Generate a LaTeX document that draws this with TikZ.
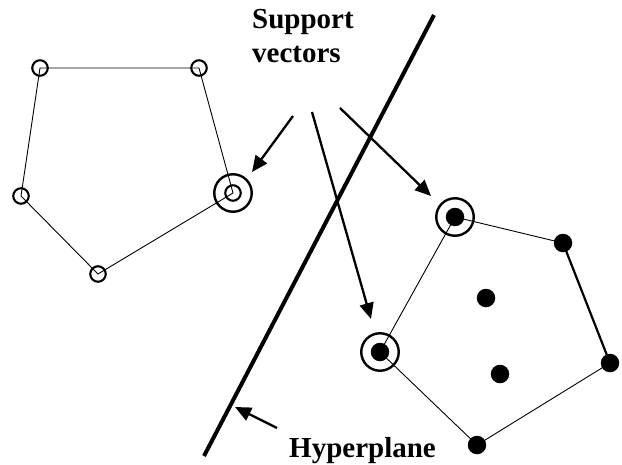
\documentclass[tikz,border=0pt]{standalone}
\usepackage{fontspec}
\setmainfont{Liberation Serif}
\usetikzlibrary{arrows.meta}
\begin{document}
\begin{tikzpicture}[x=1pt,y=-1pt,
  edge/.style={line width=0.9pt},
  heavyedge/.style={line width=2.2pt},
  hollow/.style={circle,draw,line width=2.1pt,minimum size=15.5pt,inner sep=0pt},
  filleddot/.style={circle,fill,minimum size=18.5pt,inner sep=0pt},
  ring/.style={circle,draw,line width=2.4pt,minimum size=37.5pt,inner sep=0pt},
  pointer/.style={line width=2.3pt,-{Triangle[length=16pt,width=14pt]}},
  caption/.style={inner sep=0pt,font=\fontsize{29}{34}\selectfont\bfseries}
]
\useasboundingbox (0,0) rectangle (622,464);

% hollow class (left pentagon)
\coordinate (A) at (40,68);
\coordinate (B) at (199,68);
\coordinate (E) at (233,193);
\coordinate (D) at (98,274);
\coordinate (C) at (21,196);
\draw[edge] (A) -- (B) -- (E) -- (D) -- (C) -- cycle;
\foreach \p in {A,B,C,D,E} \node[hollow] (h\p) at (\p) {};
\node[ring] (rE) at (E) {};

% filled class (right pentagon)
\coordinate (P1) at (455,217);
\coordinate (P2) at (563,243);
\coordinate (P3) at (610,363);
\coordinate (P4) at (477,445);
\coordinate (P5) at (380,352);
\draw[edge] (P3) -- (P4) -- (P5) -- (P1) -- (P2);
\draw[heavyedge] (P2) -- (P3);
\foreach \p in {P1,P2,P3,P4,P5} \node[filleddot] (d\p) at (\p) {};
\node[filleddot] (dQ1) at (486,298) {};
\node[filleddot] (dQ2) at (500,374) {};
\node[ring] (rP1) at (P1) {};
\node[ring] (rP5) at (P5) {};

% separating hyperplane
\coordinate (H0) at (204,456);
\coordinate (H1) at (434,15);
\draw[line width=4pt] (H0) -- (H1);

% labels
\node[caption,anchor=base west] (sup) at (252,28) {Support};
\node[caption,anchor=base west] (vec) at (252,62) {vectors};
\node[caption,anchor=base west] (hyp) at (289,457) {Hyperplane};

% pointers
\coordinate (s1) at (293,116);
\coordinate (t1) at (252,172);
\coordinate (s2) at (312,112);
\coordinate (t2) at (371,319);
\coordinate (s3) at (340,108);
\coordinate (t3) at (431,196);
\coordinate (s4) at (277,428);
\coordinate (t4) at (235,407);
\draw[pointer] (s1) -- (t1);
\draw[pointer] (s2) -- (t2);
\draw[pointer] (s3) -- (t3);
\draw[pointer] (s4) -- (t4);
\end{tikzpicture}
\end{document}
